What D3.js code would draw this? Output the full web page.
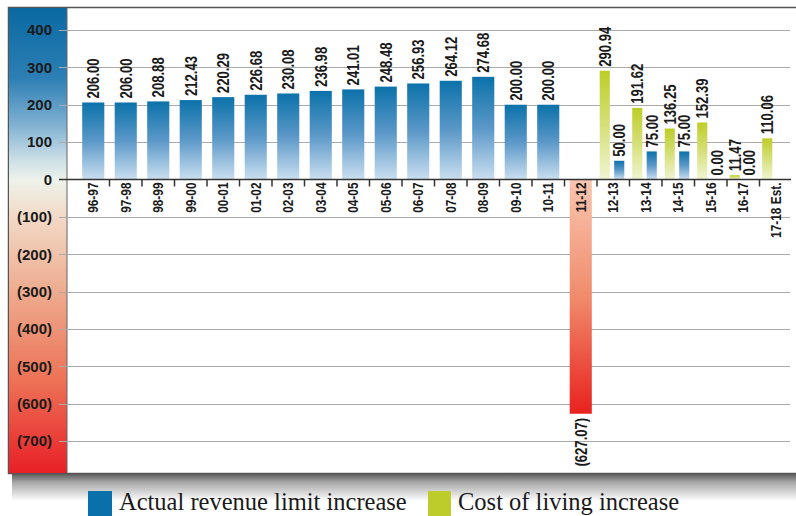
<!DOCTYPE html>
<html>
<head>
<meta charset="utf-8">
<script src="https://cdn.jsdelivr.net/npm/d3@7"></script>
<style>
  body { margin:0; background:#fff; }
  svg { display:block; }
</style>
</head>
<body>
<div id="chart"></div>
<script>
var categories = ["96-97","97-98","98-99","99-00","00-01","01-02","02-03","03-04","04-05","05-06",
  "06-07","07-08","08-09","09-10","10-11","11-12","12-13","13-14","14-15","15-16","16-17","17-18 Est."];

// actual revenue limit increase
var actual = [206.00, 206.00, 208.88, 212.43, 220.29, 226.68, 230.08, 236.98, 241.01, 248.48,
  256.93, 264.12, 274.68, 200.00, 200.00, -627.07, 50.00, 75.00, 75.00, 0.00, 0.00, null];

// cost of living increase
var costOfLiving = [null, null, null, null, null, null, null, null, null, null,
  null, null, null, null, null, null, 290.94, 191.62, 136.25, 152.39, 11.47, 110.06];

var yTicks = [400, 300, 200, 100, 0, -100, -200, -300, -400, -500, -600, -700];

var W = 796, H = 516;
var sans = "'Liberation Sans',Arial,Helvetica,sans-serif";

var svg = d3.select("#chart").append("svg")
  .attr("width", W)
  .attr("height", H);

var defs = svg.append("defs");

function vGrad(id, stops){
  var g = defs.append("linearGradient")
    .attr("id", id)
    .attr("x1", 0).attr("y1", 0).attr("x2", 0).attr("y2", 1);
  stops.forEach(function(s){
    g.append("stop").attr("offset", s[0]).attr("stop-color", s[1]);
  });
}

vGrad("gBlue", [[0, "#0b72aa"], [0.5, "#5b98c8"], [1, "#cadff0"]]);
vGrad("gGreen", [[0, "#bccd28"], [0.5, "#d6e07a"], [1, "#f0f4d2"]]);
vGrad("gRed", [[0, "#f9c6b1"], [0.5, "#f08b6c"], [1, "#e8221e"]]);
vGrad("gPanel", [[0, "#0a69a2"], [0.15, "#2c7fb4"], [0.25, "#7fb0d2"], [0.33, "#cfe1e8"],
  [0.37, "#eef2ea"], [0.45, "#f2d9c6"], [0.6, "#eeae92"], [0.8, "#ed7256"], [1, "#e81f26"]]);
vGrad("gShadow", [[0, "#555"], [0.35, "#aaa"], [1, "#fff"]]);

var y = d3.scaleLinear()
  .domain([-700, 400])
  .range([441, 30]);

var x = d3.scaleBand()
  .domain(categories)
  .range([77, 792])
  .paddingInner(0.32)
  .paddingOuter(0.16);

var xSub = d3.scaleBand()
  .domain(["col", "act"])
  .range([-2.5, x.bandwidth()])
  .paddingInner(0.3);

var step = x.step();

// shadow + frame
svg.append("rect")
  .attr("x", 12).attr("y", 473)
  .attr("width", W).attr("height", 28)
  .attr("fill", "url(#gShadow)");

svg.append("rect")
  .attr("x", 8.5).attr("y", 7.5)
  .attr("width", 820).attr("height", 466)
  .attr("fill", "#fff")
  .attr("stroke", "#555")
  .attr("stroke-width", 1.5);

svg.append("rect")
  .attr("x", 9).attr("y", 8)
  .attr("width", 58).attr("height", 465)
  .attr("fill", "url(#gPanel)");

svg.append("line")
  .attr("x1", 67).attr("x2", 67)
  .attr("y1", 8).attr("y2", 473)
  .attr("stroke", "#666");

// grid lines
svg.selectAll(".grid")
  .data(yTicks.filter(function(d){ return d !== 0; }))
  .enter()
  .append("line")
  .attr("class", "grid")
  .attr("x1", 59).attr("x2", 790)
  .attr("y1", function(d){ return Math.round(y(d)) + 0.5; })
  .attr("y2", function(d){ return Math.round(y(d)) + 0.5; })
  .attr("stroke", "#aaa")
  .attr("stroke-width", 1);

// y labels
svg.selectAll(".ylab")
  .data(yTicks)
  .enter()
  .append("text")
  .attr("class", "ylab")
  .attr("x", 52)
  .attr("y", function(d){ return y(d); })
  .attr("dy", "0.36em")
  .attr("text-anchor", "end")
  .attr("font-family", sans)
  .attr("font-weight", "bold")
  .attr("font-size", "15px")
  .attr("fill", "#1a1a1a")
  .text(function(d){ return d < 0 ? "(" + (-d) + ")" : d; });

// bar data
var bars = [];
categories.forEach(function(c, i){
  var paired = costOfLiving[i] !== null;
  if (actual[i] !== null) {
    bars.push({cat: c, value: actual[i], kind: "act", paired: paired});
  }
  if (paired) {
    bars.push({cat: c, value: costOfLiving[i], kind: "col", paired: true});
  }
});

function barX(d){
  return d.paired ? x(d.cat) + xSub(d.kind) : x(d.cat);
}
function barW(d){
  return d.paired ? xSub.bandwidth() : x.bandwidth();
}

svg.selectAll(".bar")
  .data(bars)
  .enter()
  .append("rect")
  .attr("class", "bar")
  .attr("x", barX)
  .attr("width", barW)
  .attr("y", function(d){ return Math.min(y(d.value), y(0)); })
  .attr("height", function(d){ return Math.abs(y(d.value) - y(0)); })
  .attr("fill", function(d){
    if (d.value < 0) return "url(#gRed)";
    return d.kind === "col" ? "url(#gGreen)" : "url(#gBlue)";
  });

// zero axis + separators
svg.append("line")
  .attr("x1", 59).attr("x2", 791)
  .attr("y1", y(0)).attr("y2", y(0))
  .attr("stroke", "#333")
  .attr("stroke-width", 1.6);

svg.selectAll(".sep")
  .data(categories.slice(1))
  .enter()
  .append("line")
  .attr("class", "sep")
  .attr("x1", function(d){ return x(d) - step * 0.16; })
  .attr("x2", function(d){ return x(d) - step * 0.16; })
  .attr("y1", y(0)).attr("y2", y(0) + 7)
  .attr("stroke", "#333")
  .attr("stroke-width", 1.5);

// category labels (condensed by scaling along the text direction)
svg.selectAll(".cat")
  .data(categories)
  .enter()
  .append("text")
  .attr("class", "cat")
  .attr("transform", function(d){
    return "translate(" + (x(d) + x.bandwidth() / 2) + "," + (y(0) + 3) + ") rotate(-90) scale(0.82,1)";
  })
  .attr("dy", "0.36em")
  .attr("text-anchor", "end")
  .attr("font-family", sans)
  .attr("font-weight", "bold")
  .attr("font-size", "14.5px")
  .attr("fill", "#1a1a1a")
  .text(function(d){ return d; });

// value labels
svg.selectAll(".val")
  .data(bars)
  .enter()
  .append("text")
  .attr("class", "val")
  .attr("transform", function(d){
    var cx = barX(d) + barW(d) / 2;
    var ty = d.value < 0 ? y(d.value) + 4 : y(d.value) - 4;
    return "translate(" + cx + "," + ty + ") rotate(-90) scale(0.82,1)";
  })
  .attr("dy", "0.36em")
  .attr("text-anchor", function(d){ return d.value < 0 ? "end" : "start"; })
  .attr("font-family", sans)
  .attr("font-weight", "bold")
  .attr("font-size", "16px")
  .attr("fill", "#1a1a1a")
  .text(function(d){
    return d.value < 0 ? "(" + (-d.value).toFixed(2) + ")" : d.value.toFixed(2);
  });

// legend
var legend = [
  {label: "Actual revenue limit increase", color: "#0a70a9", x: 88, w: 24},
  {label: "Cost of living increase", color: "#bdcc2a", x: 428, w: 23}
];

var lg = svg.selectAll(".legend")
  .data(legend)
  .enter()
  .append("g")
  .attr("class", "legend");

lg.append("rect")
  .attr("x", function(d){ return d.x; })
  .attr("y", 491)
  .attr("width", function(d){ return d.w; })
  .attr("height", 26)
  .attr("fill", function(d){ return d.color; });

lg.append("text")
  .attr("x", function(d){ return d.x + d.w + 7; })
  .attr("y", 510)
  .attr("font-family", "'Liberation Serif','Times New Roman',serif")
  .attr("font-size", "24.5px")
  .attr("fill", "#1a1a1a")
  .text(function(d){ return d.label; });
</script>
</body>
</html>
